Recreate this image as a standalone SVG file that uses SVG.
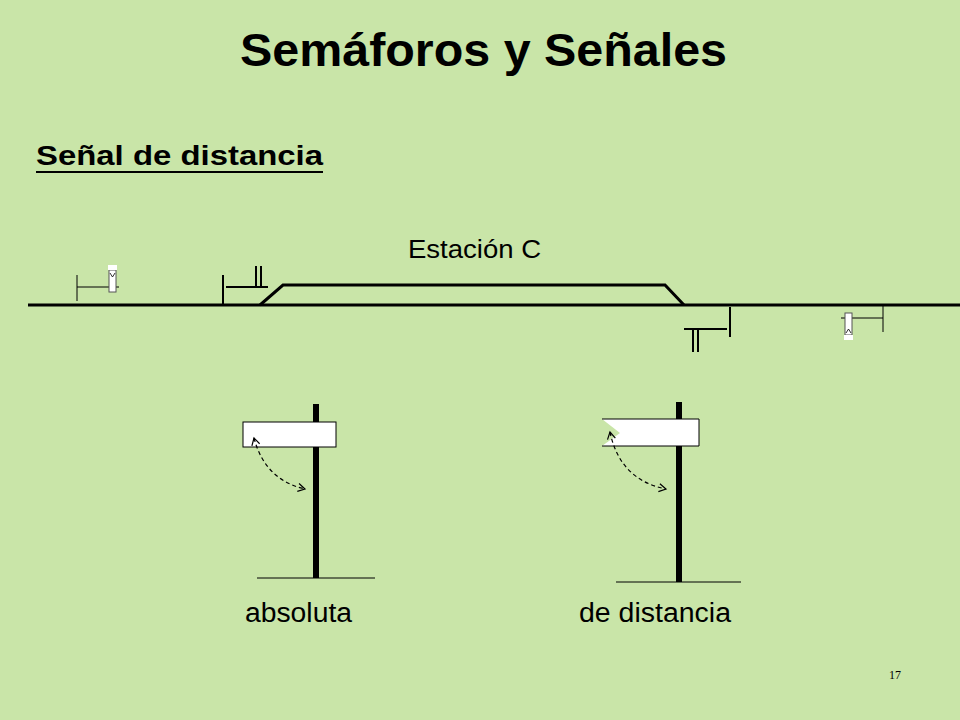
<svg xmlns="http://www.w3.org/2000/svg" width="960" height="720" viewBox="0 0 960 720">
<style>
.t{font-family:"Liberation Sans",Arial,sans-serif;fill:#000}
.k{stroke:#000;fill:none}
.d{stroke:#000;fill:none;stroke-width:1.2;stroke-dasharray:4 3}
</style>
<defs><marker id="a" markerWidth="12" markerHeight="12" refX="8" refY="5" orient="auto-start-reverse" markerUnits="userSpaceOnUse"><path d="M1,1 L8,5 L1,9" fill="none" stroke="#000" stroke-width="1.2"/></marker></defs>
<rect width="960" height="720" fill="#c9e5a8"/>
<text class="t" x="240" y="66" font-size="46" font-weight="bold" textLength="487" lengthAdjust="spacingAndGlyphs">Semáforos y Señales</text>
<text class="t" x="36" y="165" font-size="27" font-weight="bold" textLength="287" lengthAdjust="spacingAndGlyphs">Señal de distancia</text>
<line x1="36" y1="172" x2="323" y2="172" stroke="#000" stroke-width="2"/>
<text class="t" x="408" y="258" font-size="25" textLength="133" lengthAdjust="spacingAndGlyphs">Estación C</text>
<g id="sig-left-dist">
<line class="k" x1="77" y1="275" x2="77" y2="301" stroke="#333"/>
<line class="k" x1="77" y1="287" x2="119" y2="287"/>
<rect x="109" y="270" width="7" height="22" fill="#fff" stroke="#555"/>
<rect x="108" y="265" width="9" height="5" fill="#fff"/>
<path class="k" d="M110,273 L112.5,277 L115,273" stroke-width="0.8"/>
</g>
<g id="sig-left-abs">
<line class="k" x1="223" y1="275" x2="223" y2="305" stroke-width="2"/>
<line class="k" x1="226" y1="287" x2="268" y2="287" stroke-width="2"/>
<line class="k" x1="256" y1="266" x2="256" y2="287" stroke-width="2"/>
<line class="k" x1="261" y1="266" x2="261" y2="287" stroke-width="2"/>
</g>
<g id="sig-right-abs">
<line class="k" x1="730" y1="307" x2="730" y2="337" stroke-width="2"/>
<line class="k" x1="684" y1="329" x2="727" y2="329" stroke-width="2"/>
<line class="k" x1="693" y1="329" x2="693" y2="352" stroke-width="2"/>
<line class="k" x1="698" y1="329" x2="698" y2="352" stroke-width="2"/>
</g>
<g id="sig-right-dist">
<line class="k" x1="883" y1="304" x2="883" y2="332" stroke="#666"/>
<line class="k" x1="841" y1="318" x2="883" y2="318"/>
<rect x="845" y="313" width="7" height="22" fill="#fff" stroke="#555"/>
<rect x="844" y="335" width="9" height="5" fill="#fff"/>
<path class="k" d="M846,333 L848.5,329 L851,333" stroke-width="0.8"/>
</g>
<g id="post-abs">
<line class="k" x1="316" y1="404" x2="316" y2="578" stroke-width="6"/>
<line class="k" x1="257" y1="578" x2="375" y2="578"/>
<rect x="243" y="422" width="93" height="25" fill="#fff" stroke="#000"/>
</g>
<g id="post-dist">
<line class="k" x1="679" y1="402" x2="679" y2="582" stroke-width="6"/>
<line class="k" x1="616" y1="582" x2="741" y2="582"/>
<polygon points="602,419 699,419 699,446 602,446 620,433" fill="#fff"/>
<path class="k" d="M602,419 L699,419 L699,446 L602,446"/>
</g>
<g id="connectors">
<line class="k" x1="28" y1="305" x2="960" y2="305" stroke-width="3"/>
<path class="k" d="M260,305 L283,285 L665,285 L684,305" stroke-width="3"/>
<path class="d" d="M254,438 Q265,480 305,489" marker-start="url(#a)" marker-end="url(#a)"/>
<path class="d" d="M610,432 Q620,480 666,489" marker-start="url(#a)" marker-end="url(#a)"/>
</g>
<text class="t" x="245" y="622" font-size="27" textLength="107" lengthAdjust="spacingAndGlyphs">absoluta</text>
<text class="t" x="579" y="622" font-size="27" textLength="152" lengthAdjust="spacingAndGlyphs">de distancia</text>
<text x="895" y="679" font-size="12" font-family="Liberation Serif,serif" text-anchor="middle">17</text>
</svg>
